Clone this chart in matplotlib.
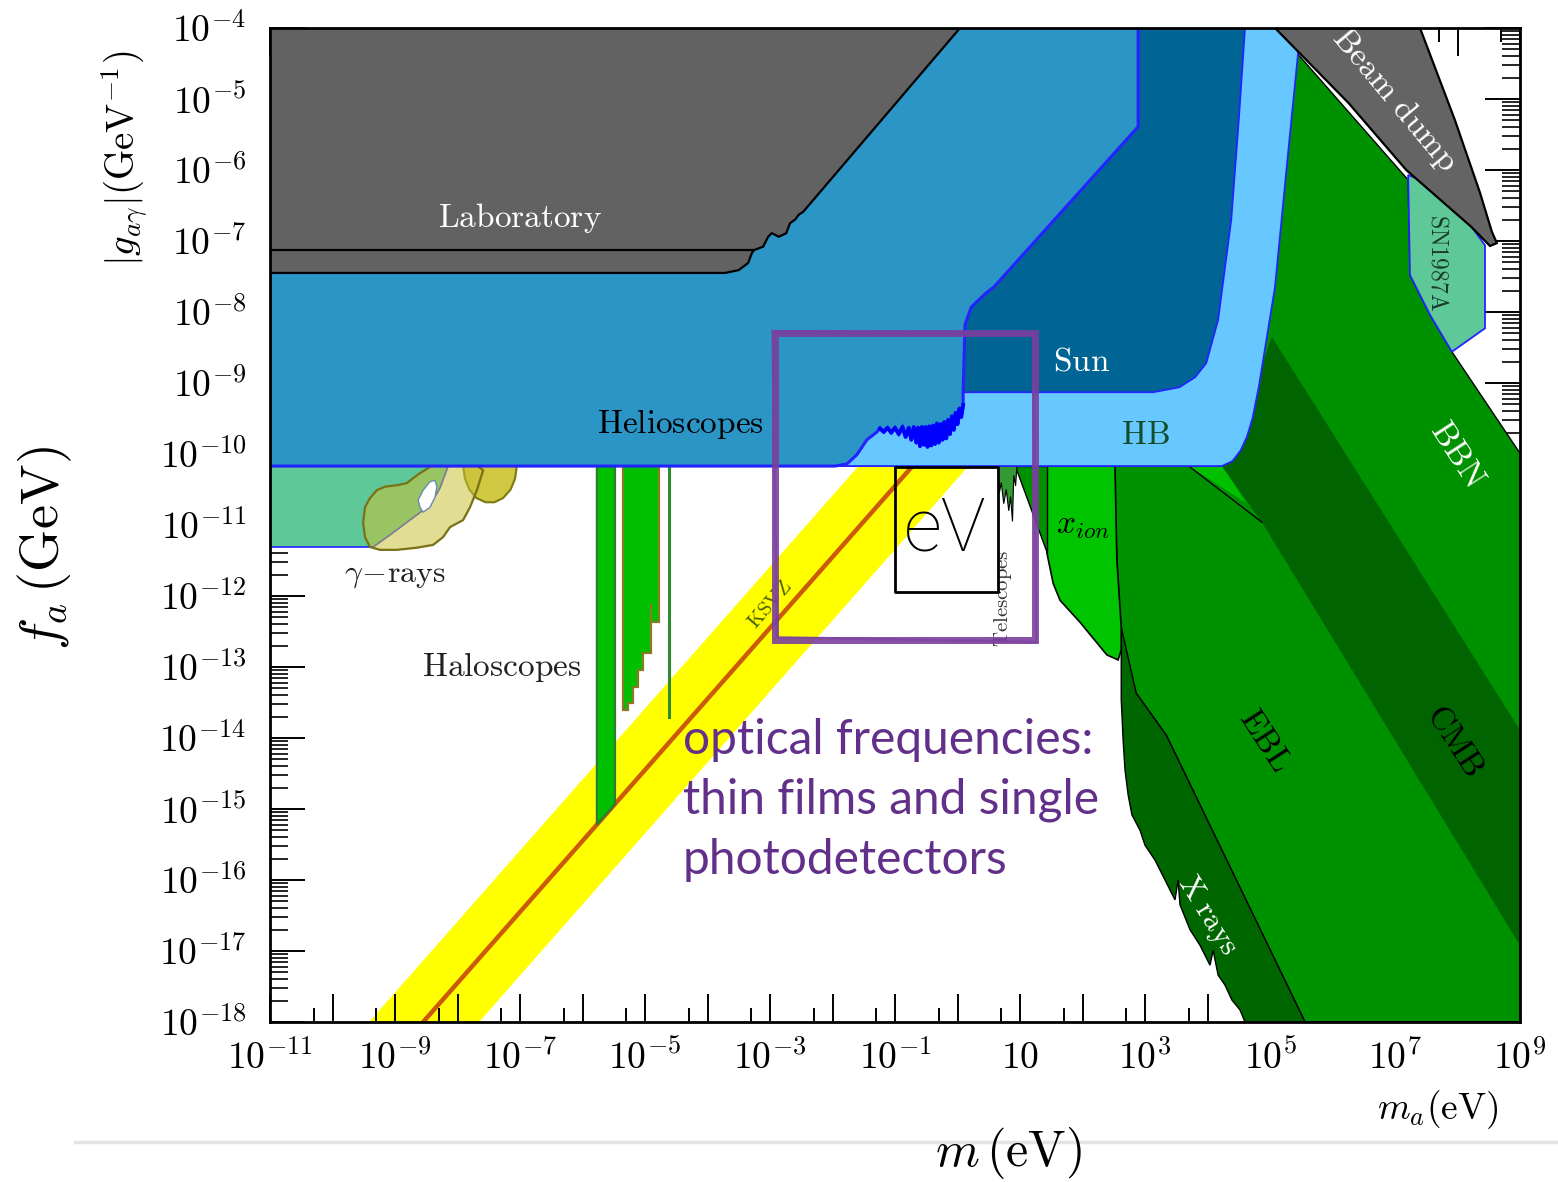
import numpy as np
import matplotlib
matplotlib.use("Agg")
import matplotlib.pyplot as plt
from matplotlib.ticker import FixedLocator, FuncFormatter, NullFormatter
from matplotlib.lines import Line2D

plt.rcParams["mathtext.fontset"] = "cm"
plt.rcParams["font.family"] = ["DejaVu Serif"]

# ---------------- data: log10(m_a / eV), log10(g / GeV^-1) ----------------
x_major_exp = list(range(-11, 10))
x_minor_exp = list(range(-11, 9))
x_label_exp = [-11, -9, -7, -5, -3, -1, 1, 3, 5, 7, 9]
y_major_exp = list(range(-18, -3))

lab_logm = [-11.0, 0.04, -2.47, -2.54, -2.60, -2.68, -2.74, -2.86, -2.97, -3.03, -3.11,
            -3.26, -3.29, -3.35, -3.50, -3.72, -11.0]
lab_logg = [-4.0, -4.0, -6.59, -6.63, -6.70, -6.75, -6.89, -6.94, -6.89, -6.94, -7.08,
            -7.13, -7.17, -7.31, -7.41, -7.45, -7.45]
lab_line_logm = [-11.0, -3.26]
lab_line_logg = [-7.13, -7.13]

helio_logm = [-11.0, 2.89, 2.89, 0.58, 0.46, 0.22, 0.12, 0.09, 0.09,
              0.06, 0.03, 0.00, -0.03, -0.06, -0.09, -0.12, -0.15, -0.18, -0.21, -0.24,
              -0.27, -0.30, -0.33, -0.36, -0.39, -0.42, -0.45, -0.48, -0.51, -0.54, -0.57,
              -0.60, -0.63, -0.66, -0.70, -0.74, -0.78, -0.83, -0.88, -0.94, -1.00, -1.06,
              -1.12, -1.18, -1.24,
              -1.29, -1.45, -1.61, -1.77, -1.96, -11.0]
helio_logg = [-4.0, -4.0, -5.39, -7.65, -7.73, -7.93, -8.18, -9.13, -9.31,
              -9.48, -9.36, -9.58, -9.42, -9.66, -9.47, -9.72, -9.52, -9.78, -9.55, -9.80,
              -9.58, -9.84, -9.57, -9.86, -9.60, -9.88, -9.61, -9.90, -9.62, -9.87, -9.62,
              -9.89, -9.63, -9.84, -9.62, -9.80, -9.63, -9.76, -9.62, -9.72, -9.63, -9.70,
              -9.63, -9.69, -9.64,
              -9.69, -9.80, -10.01, -10.14, -10.17, -10.17]
noise_start, noise_end = 8, 45

sun_logm = [0.09, 0.09, 0.22, 0.46, 0.58, 2.89, 2.89, 4.60, 4.50, 4.38, 4.17, 3.98,
            3.80, 3.55, 3.13]
sun_logg = [-9.13, -8.18, -7.93, -7.73, -7.65, -5.39, -4.0, -4.0, -5.30, -6.70, -8.11,
            -8.72, -8.92, -9.06, -9.13]

hb_logm = [-11.0, -11.0, 5.48, 5.45, 5.29, 5.08, 4.82, 4.72, 4.63, 4.53, 4.40, 4.23]
hb_logg = [-10.17, -4.0, -4.0, -4.35, -5.76, -7.65, -9.06, -9.50, -9.76, -9.95, -10.10, -10.17]

gam_logm = [-11.0, -8.12, -8.28, -8.44, -8.76, -9.08, -9.35, -11.0]
gam_logg = [-10.10, -10.10, -10.48, -10.72, -10.93, -11.14, -11.31, -11.31]

blob_logm = [-9.40, -9.48, -9.51, -9.48, -9.40, -9.29, -9.16, -8.97, -8.81, -8.71, -8.60,
             -8.49, -8.44, -8.33, -7.80, -7.59, -7.69, -7.80, -7.91, -8.12, -8.23, -8.39,
             -8.65, -8.97, -9.24]
blob_logg = [-11.31, -11.17, -10.97, -10.75, -10.62, -10.51, -10.46, -10.44, -10.41, -10.34,
             -10.27, -10.21, -10.18, -10.08, -10.08, -10.23, -10.51, -10.75, -10.93, -11.03,
             -11.17, -11.28, -11.32, -11.35, -11.35]
hole_logm = [-8.60, -8.63, -8.55, -8.44, -8.36, -8.33, -8.36, -8.44, -8.55]
hole_logg = [-10.75, -10.65, -10.51, -10.39, -10.37, -10.46, -10.61, -10.75, -10.82]
oval_logm = [-7.91, -7.88, -7.81, -7.70, -7.55, -7.41, -7.27, -7.15, -7.08, -7.05, -7.05, -7.91]
oval_logg = [-10.17, -10.35, -10.50, -10.62, -10.68, -10.68, -10.62, -10.50, -10.35, -10.17,
             -10.0, -10.0]

halo1_logm = [-5.77, -5.48, -5.48, -5.77]
halo1_logg = [-10.1, -10.1, -14.93, -15.22]
halo2_logm = [-5.35, -4.78, -4.78, -4.90, -4.90, -5.03, -5.03, -5.11, -5.11, -5.19, -5.19,
              -5.27, -5.27, -5.35]
halo2_logg = [-10.1, -10.1, -12.37, -12.37, -12.80, -12.80, -13.04, -13.04, -13.28, -13.28,
              -13.51, -13.51, -13.61, -13.61]
halo2_step_logm = [-4.90, -4.90]
halo2_step_logg = [-12.13, -12.37]
halo3_logm = [-4.62, -4.62]
halo3_logg = [-10.1, -13.70]

ksvz_logm = [-10.0, 0.5]
ksvz_logg = [-19.45, -8.95]
band_hi_logg = [-18.57, -8.07]
band_lo_logg = [-20.33, -9.83]

ebl_logm = [2.49, 2.49, 5.08, 7.21, 7.24, 7.56, 7.91, 9.0, 9.0, 5.56, 3.34, 2.86, 2.62, 2.55]
ebl_logg = [-10.17, -9.80, -4.0, -6.14, -7.48, -8.04, -8.56, -9.99, -18.0, -18.0, -13.96,
            -13.37, -12.62, -11.49]
cmb_logm = [4.23, 4.87, 9.0, 9.0, 5.03, 4.68]
cmb_logg = [-10.17, -10.96, -16.92, -13.89, -8.35, -9.24]
xr_logm = [2.62, 2.86, 3.34, 5.56, 4.60, 4.52, 4.39, 4.28, 4.17, 4.09, 4.04, 3.88, 3.72,
           3.56, 3.53, 3.48, 3.32, 3.16, 3.00, 2.92, 2.79, 2.73, 2.68, 2.65, 2.62]
xr_logg = [-12.44, -13.37, -13.96, -18.0, -18.0, -17.83, -17.69, -17.48, -17.34, -16.99,
           -17.20, -16.92, -16.70, -16.35, -16.00, -16.28, -16.00, -15.72, -15.51, -15.30,
           -15.08, -14.80, -14.45, -14.03, -13.46]
tri_logm = [3.70, 4.23, 4.62]
tri_logg = [-10.17, -10.17, -10.69]
tri_line_logm = [3.70, 4.87]
tri_line_logg = [-10.17, -10.96]
xion_logm = [1.43, 2.52, 2.55, 2.62, 2.62, 2.57, 2.39, 1.96, 1.64, 1.53, 1.43]
xion_logg = [-10.17, -10.17, -11.49, -12.44, -12.76, -12.90, -12.83, -12.37, -12.06, -11.82,
             -11.39]
sliver_logm = [0.92, 1.43, 1.43]
sliver_logg = [-10.17, -10.17, -11.39]
tel_logm = [0.65, 0.95, 0.93, 0.90, 0.88, 0.85, 0.82, 0.78, 0.74, 0.70, 0.67, 0.65]
tel_logg = [-10.17, -10.17, -10.45, -10.30, -10.95, -10.60, -10.80, -10.50, -10.70, -10.40,
            -10.55, -10.30]
bd_logm = [5.08, 7.40, 7.96, 8.36, 8.55, 8.63, 8.52, 8.22, 7.18, 6.26]
bd_logg = [-4.0, -4.0, -5.30, -6.32, -6.87, -7.03, -7.07, -6.80, -6.0, -5.06]
sn_logm = [7.21, 7.24, 7.56, 7.91, 8.44, 8.44, 8.20, 7.40]
sn_logg = [-6.07, -7.48, -8.04, -8.56, -8.23, -7.06, -6.77, -6.14]

purple_box_logm = [-2.92, 1.24]
purple_box_logg = [-8.30, -12.62]
ev_box_logm = [-1.0, 0.65]
ev_box_logg = [-10.18, -11.94]

# ---------------- figure ----------------
fig = plt.figure(figsize=(15.58, 11.82), dpi=100)
ax = fig.add_axes([270 / 1558, 1 - 1022 / 1182, 1250 / 1558, 994 / 1182])
ax.set_xscale("log")
ax.set_yscale("log")
ax.set_xlim(1e-11, 1e9)
ax.set_ylim(1e-18, 1e-4)


def L(a):
    return 10.0 ** np.asarray(a, dtype=float)


def poly(lm, lg, fc, ec="black", lw=1.2, z=2, alpha=1.0):
    ax.fill(L(lm), L(lg), facecolor=fc, edgecolor=ec, lw=lw, zorder=z, alpha=alpha)


BLUE_EDGE = "#2323ff"
# KSVZ band
ax.fill_between(L(ksvz_logm), L(band_lo_logg), L(band_hi_logg), color="#ffff00", lw=0, zorder=1)
ax.plot(L(ksvz_logm), L(ksvz_logg), color="#cc5a0a", lw=3.2, zorder=1.5)

# green constraints
poly(ebl_logm, ebl_logg, "#009100", ec="black", lw=1.0, z=2)
poly(cmb_logm, cmb_logg, "#006400", ec="none", lw=0, z=2.1)
poly(xr_logm, xr_logg, "#006600", ec="black", lw=1.0, z=2.2)
poly(tri_logm, tri_logg, "#00c000", ec="none", lw=0, z=2.3)
ax.plot(L(tri_line_logm), L(tri_line_logg), color="black", lw=1.0, zorder=2.35)
poly(xion_logm, xion_logg, "#00c400", ec="black", lw=1.2, z=2.3)
poly(sliver_logm, sliver_logg, "#009100", ec="black", lw=1.0, z=2.3)
poly(tel_logm, tel_logg, "#339933", ec="black", lw=0.8, z=2.3)

# gamma rays
poly(gam_logm, gam_logg, "#5ec898", ec=BLUE_EDGE, lw=1.2, z=2)
poly(oval_logm, oval_logg, "#cfc840", ec="#7a7a10", lw=1.5, z=2.4)
poly(blob_logm, blob_logg, "#c9c23a", ec="none", lw=0, z=2.5, alpha=0.55)
ax.fill(L(blob_logm), L(blob_logg), facecolor="none", edgecolor="#7a7015", lw=1.6, zorder=2.6)
poly(hole_logm, hole_logg, "white", ec="#6a8ab0", lw=1.0, z=2.7)

# haloscopes
poly(halo1_logm, halo1_logg, "#00c000", ec="#2e7d32", lw=1.6, z=3)
poly(halo2_logm, halo2_logg, "#00c000", ec="#8b7a25", lw=1.6, z=3)
ax.plot(L(halo2_step_logm), L(halo2_step_logg), color="#8b7a25", lw=1.6, zorder=3.1)
ax.plot(L(halo3_logm), L(halo3_logg), color="#2e8b2e", lw=2.2, zorder=3)

# blue regions
poly(hb_logm, hb_logg, "#66c8ff", ec=BLUE_EDGE, lw=1.3, z=4)
poly(sun_logm, sun_logg, "#006494", ec=BLUE_EDGE, lw=1.3, z=5)
poly(helio_logm, helio_logg, "#2b95c6", ec=BLUE_EDGE, lw=2.2, z=5)
ax.plot(L(helio_logm[noise_start:noise_end]), L(helio_logg[noise_start:noise_end]),
        color="#0000ff", lw=2.8, zorder=5.1)
poly(sn_logm, sn_logg, "#5ec898", ec=BLUE_EDGE, lw=1.3, z=5)

# laboratory & beam dump
poly(lab_logm, lab_logg, "#626262", ec="black", lw=1.6, z=6)
ax.plot(L(lab_line_logm), L(lab_line_logg), color="black", lw=1.6, zorder=6.1)
poly(bd_logm, bd_logg, "#646464", ec="black", lw=1.6, z=6)

# overlays: eV box and purple box
ax.plot(L([ev_box_logm[0], ev_box_logm[1], ev_box_logm[1], ev_box_logm[0], ev_box_logm[0]]),
        L([ev_box_logg[0], ev_box_logg[0], ev_box_logg[1], ev_box_logg[1], ev_box_logg[0]]),
        color="black", lw=2.0, zorder=11)
px0, px1 = purple_box_logm
py0, py1 = purple_box_logg
ax.plot(L([px0, px1, px1, px0, px0]), L([py0, py0, py1, py1, py0]),
        color="#7b3f9e", lw=5, alpha=0.9, zorder=12, solid_joinstyle="miter")
ax.plot(L([px0 - 0.04, px1 - 0.03, px1 + 0.02, px0 + 0.03, px0 - 0.04]),
        L([py0 + 0.03, py0 - 0.02, py1 - 0.03, py1 + 0.04, py0 + 0.03]),
        color="#7b3f9e", lw=1.8, alpha=0.6, zorder=12)


def T(lm, lg, s, **kw):
    ax.text(10 ** lm, 10 ** lg, s, ha="center", va="center", zorder=10, **kw)


T(-7.0, -6.68, r"$\mathrm{Laboratory}$", color="white", fontsize=24)
T(-4.44, -9.58, r"$\mathrm{Helioscopes}$", color="black", fontsize=24)
T(1.99, -8.70, r"$\mathrm{Sun}$", color="white", fontsize=24)
T(3.0, -9.73, r"$\mathrm{HB}$", color="#134d2a", fontsize=24)
T(-9.0, -11.70, r"$\gamma\!-\!\mathrm{rays}$", color="#222222", fontsize=23)
T(-7.29, -13.0, r"$\mathrm{Haloscopes}$", color="#222222", fontsize=24)
T(-3.0, -12.12, r"$\mathrm{KSVZ}$", color="#4b5f00", fontsize=15, rotation=49)
T(0.73, -12.03, r"$\mathrm{Telescopes}$", color="#333333", fontsize=15, rotation=90)
T(2.0, -11.0, r"$x_{ion}$", color="black", fontsize=24)
T(4.92, -14.03, r"$\mathrm{EBL}$", color="black", fontsize=24, rotation=-57)
T(7.96, -14.03, r"$\mathrm{CMB}$", color="black", fontsize=24, rotation=-57)
T(8.0, -10.01, r"$\mathrm{BBN}$", color="white", fontsize=24, rotation=-57)
T(4.0, -16.49, r"$\mathrm{X\ rays}$", color="white", fontsize=22, rotation=-58)
T(7.0, -5.01, r"$\mathrm{Beam\ dump}$", color="white", fontsize=24, rotation=-50)
T(7.69, -7.30, r"$\mathrm{SN1987A}$", color="#1a3a2a", fontsize=17, rotation=-90)

ax.text(10 ** -0.2, 10 ** -11.07, "eV", ha="center", va="center", fontsize=54,
        family="Roboto", weight="light", color="black", zorder=11)
purple_lines = ["optical frequencies:", "thin films and single", "photodetectors"]
purple_logg = [-14.03, -14.87, -15.72]
for s, lg in zip(purple_lines, purple_logg):
    ax.text(10 ** -4.39, 10 ** lg, s, ha="left", va="center", fontsize=34.5,
            family="Lato", color="#62308a", zorder=11)

# ---------------- ticks ----------------
ax.xaxis.set_major_locator(FixedLocator([10.0 ** e for e in x_major_exp]))
ax.xaxis.set_minor_locator(FixedLocator([5 * 10.0 ** e for e in x_minor_exp]))


def xfmt(v, p):
    e = int(round(np.log10(v)))
    if e not in x_label_exp:
        return ""
    return r"$10$" if e == 1 else r"$10^{%d}$" % e


ax.xaxis.set_major_formatter(FuncFormatter(xfmt))
ax.xaxis.set_minor_formatter(NullFormatter())
ax.yaxis.set_major_locator(FixedLocator([10.0 ** e for e in y_major_exp]))
ax.yaxis.set_minor_locator(FixedLocator([k * 10.0 ** e for e in range(-18, -4) for k in range(2, 10)]))
ax.yaxis.set_major_formatter(FuncFormatter(lambda v, p: r"$10^{%d}$" % int(round(np.log10(v)))))
ax.yaxis.set_minor_formatter(NullFormatter())

ax.tick_params(axis="x", which="major", direction="in", length=20, width=1.4,
               top=True, bottom=True, pad=13, labelsize=27)
ax.tick_params(axis="x", which="minor", direction="in", length=10, width=1.4,
               top=True, bottom=True)
ax.tick_params(axis="y", which="major", direction="in", length=25, width=1.4,
               left=True, right=True, pad=17, labelsize=27)
ax.tick_params(axis="y", which="minor", direction="in", length=13, width=1.2,
               left=True, right=True)
for sp in ax.spines.values():
    sp.set_linewidth(2.0)
    sp.set_zorder(20)

# ---------------- axis titles ----------------
fig.text(125 / 1558, 1 - 158 / 1182, r"$|g_{a\gamma}|(\mathrm{GeV}^{-1})$", rotation=90,
         ha="center", va="center", fontsize=28)
fig.text(45 / 1558, 1 - 548 / 1182, r"$f_a\,(\mathrm{GeV})$", rotation=90,
         ha="center", va="center", fontsize=39)
fig.text(1438 / 1558, 1 - 1110 / 1182, r"$m_a(\mathrm{eV})$", ha="center", va="center",
         fontsize=27)
fig.text(1008 / 1558, 1 - 1153 / 1182, r"$m\,(\mathrm{eV})$", ha="center", va="center",
         fontsize=36)
fig.add_artist(Line2D([75 / 1558, 1.0], [1 - 1142 / 1182] * 2, color="#e4e4e4", lw=2.5))

fig.savefig("out.png", dpi=100)
